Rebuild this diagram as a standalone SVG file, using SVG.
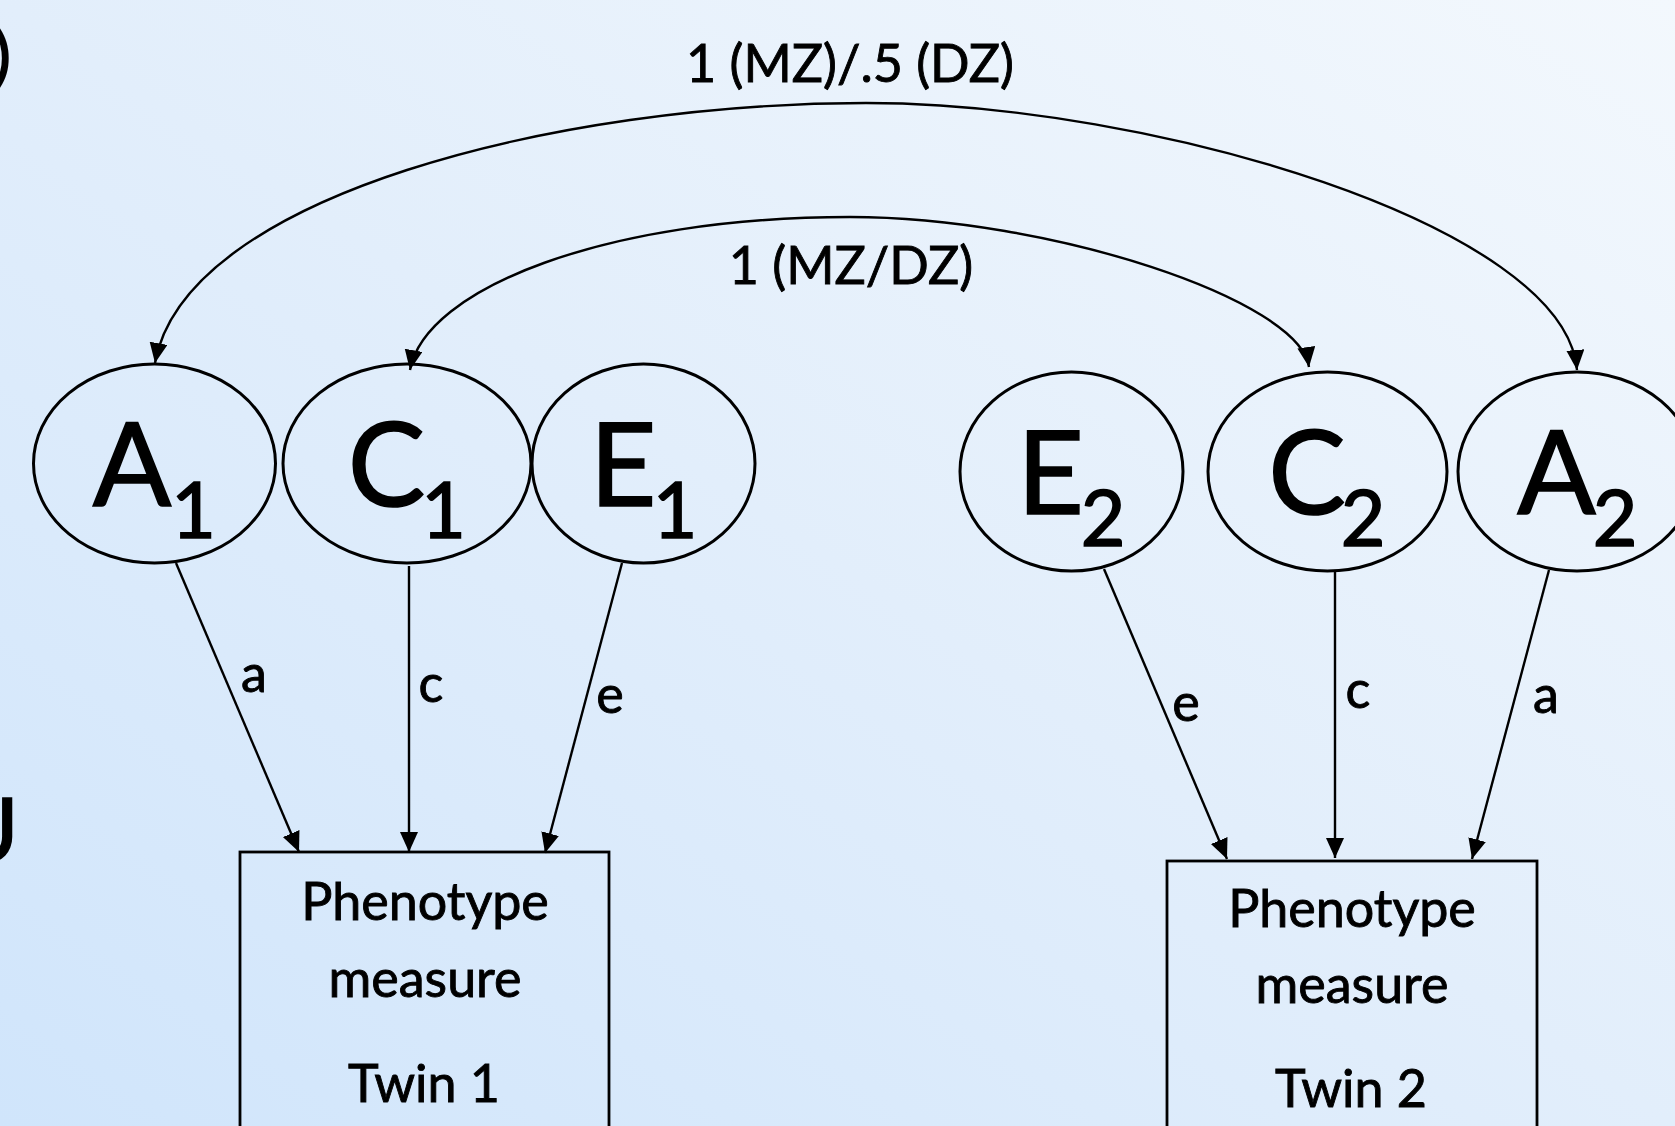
<svg xmlns="http://www.w3.org/2000/svg" width="1675" height="1126" viewBox="0 0 1675 1126">
<defs>
<linearGradient id="bg" x1="0" y1="1" x2="1" y2="0">
<stop offset="0" stop-color="#d0e5fb"/>
<stop offset="0.5" stop-color="#e2eefb"/>
<stop offset="1" stop-color="#f3f8fd"/>
</linearGradient>
<marker id="arr" markerUnits="userSpaceOnUse" markerWidth="22" markerHeight="20" refX="20" refY="9" orient="auto-start-reverse" viewBox="0 0 22 20">
<path d="M0,0 L20,9 L0,18 z" fill="#000"/>
</marker>
</defs>
<style>
.lat{fill:none;stroke:#000;stroke-width:3}
.box{fill:none;stroke:#000;stroke-width:2.8}
.con{fill:none;stroke:#000;stroke-width:2.4}
.big{font-family:Lato,"Liberation Sans",sans-serif;font-size:116px;fill:#000;stroke:#000;stroke-width:1.6;text-anchor:middle}
.sub{font-size:77px}
.lbl{font-family:Lato,"Liberation Sans",sans-serif;font-size:52px;fill:#000;stroke:#000;stroke-width:0.9;text-anchor:middle}
.frag{font-family:Lato,"Liberation Sans",sans-serif;fill:#000;text-anchor:end}
</style>
<rect x="0" y="0" width="1675" height="1126" fill="url(#bg)"/>
<text class="frag" x="11" y="78" font-size="64" font-weight="bold">)</text>
<text class="frag" x="19" y="862" font-size="90" stroke="#000" stroke-width="1.5">U</text>

<g id="connectors">
<path class="con" d="M155,363 C185,195 560,103 866,103 C1150,103 1565,225 1577,370" marker-start="url(#arr)" marker-end="url(#arr)"/>
<path class="con" d="M410,370 C425,288 607,217 850,217 C1050,217 1300,300 1309,367" marker-start="url(#arr)" marker-end="url(#arr)"/>
<path class="con" d="M176,563 L299,852" marker-end="url(#arr)"/>
<path class="con" d="M409,566 L409,852" marker-end="url(#arr)"/>
<path class="con" d="M622,563 L545,853" marker-end="url(#arr)"/>
<path class="con" d="M1104,569 L1227,859" marker-end="url(#arr)"/>
<path class="con" d="M1335,571 L1335,858" marker-end="url(#arr)"/>
<path class="con" d="M1549,570 L1472,859" marker-end="url(#arr)"/>
<text class="lbl" x="850" y="82">1 (MZ)/.5 (DZ)</text>
<text class="lbl" x="851" y="284">1 (MZ/DZ)</text>
<text class="lbl" x="254" y="692">a</text>
<text class="lbl" x="431" y="702">c</text>
<text class="lbl" x="610" y="713">e</text>
<text class="lbl" x="1186" y="721">e</text>
<text class="lbl" x="1358" y="708">c</text>
<text class="lbl" x="1546" y="713">a</text>
</g>

<g id="A1">
<ellipse class="lat" cx="154.5" cy="463.5" rx="121" ry="99.5"/>
<text class="big"><tspan x="132" y="506">A</tspan><tspan class="sub" x="193.5" y="538">1</tspan></text>
</g>
<g id="C1">
<ellipse class="lat" cx="407" cy="463.5" rx="124" ry="99.5"/>
<text class="big"><tspan x="386.5" y="506">C</tspan><tspan class="sub" x="443.5" y="538">1</tspan></text>
</g>
<g id="E1">
<ellipse class="lat" cx="643.5" cy="463.5" rx="111.5" ry="99.5"/>
<text class="big"><tspan x="623" y="506">E</tspan><tspan class="sub" x="675" y="538">1</tspan></text>
</g>
<g id="E2">
<ellipse class="lat" cx="1071.5" cy="471.5" rx="111.5" ry="99.5"/>
<text class="big"><tspan x="1050.5" y="514">E</tspan><tspan class="sub" x="1103" y="546">2</tspan></text>
</g>
<g id="C2">
<ellipse class="lat" cx="1327.5" cy="471.5" rx="119.5" ry="99.5"/>
<text class="big"><tspan x="1307" y="514">C</tspan><tspan class="sub" x="1363" y="546">2</tspan></text>
</g>
<g id="A2">
<ellipse class="lat" cx="1577" cy="471.5" rx="119" ry="99.5"/>
<text class="big"><tspan x="1556.5" y="514">A</tspan><tspan class="sub" x="1615" y="546">2</tspan></text>
</g>

<g id="Twin1">
<rect class="box" x="240" y="852" width="369" height="300"/>
<text class="lbl" x="425" y="920">Phenotype</text>
<text class="lbl" x="425" y="997">measure</text>
<text class="lbl" x="424" y="1102">Twin 1</text>
</g>
<g id="Twin2">
<rect class="box" x="1167" y="861" width="370" height="300"/>
<text class="lbl" x="1352" y="927">Phenotype</text>
<text class="lbl" x="1352" y="1003">measure</text>
<text class="lbl" x="1351" y="1107">Twin 2</text>
</g>
</svg>
